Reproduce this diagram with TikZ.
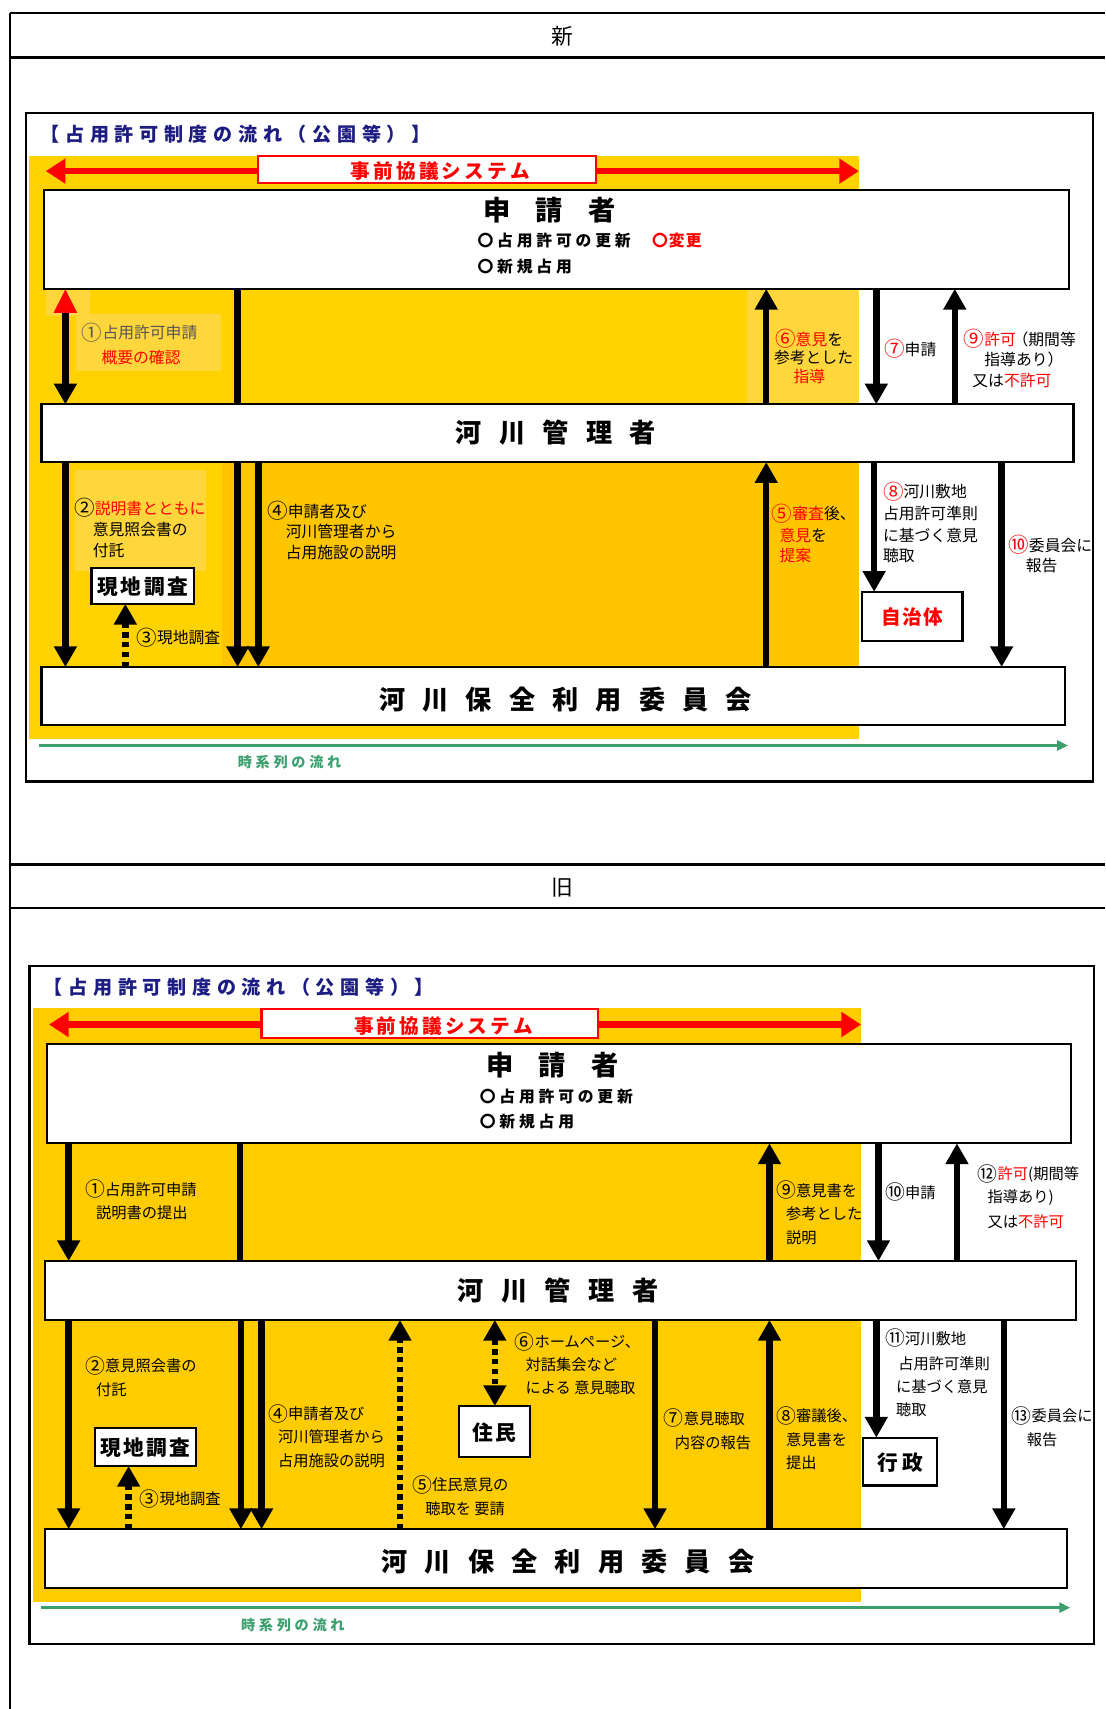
\documentclass[tikz,border=0pt]{standalone}
\usepackage{fontspec}
\setmainfont{Noto Sans CJK JP}
\newcommand{\cn}[1]{\raisebox{-1.4pt}{\scalebox{1.3}{#1}}}
\usetikzlibrary{arrows.meta}
\definecolor{navy}{RGB}{28,28,130}
\definecolor{gold}{RGB}{255,210,0}
\definecolor{goldd}{RGB}{255,198,0}
\definecolor{goldl}{RGB}{255,214,60}
\definecolor{goldb}{RGB}{255,204,0}
\definecolor{grn}{RGB}{60,160,110}
\definecolor{lblgray}{RGB}{85,85,85}
\makeatletter
\def\spc#1#2{\def\spc@gap{#1}\spc@loop#2\relax}
\def\spc@loop#1{\ifx#1\relax\unskip\else#1\hspace{\spc@gap}\expandafter\spc@loop\fi}
\makeatother
\begin{document}
\begin{tikzpicture}[x=1pt,y=-1pt,
  box/.style={draw=black,line width=2pt,fill=white,inner sep=0pt,outer sep=0pt},
  lbl/.style={font=\fontsize{14.5}{17}\selectfont,anchor=west,inner sep=0pt},
  lblb/.style={font=\fontsize{14}{17}\selectfont,anchor=west,inner sep=0pt},
  ttl/.style={font=\bfseries\fontsize{17.5}{20}\selectfont,text=navy,anchor=west,inner sep=0pt},
  big/.style={font=\bfseries\fontsize{25}{30}\selectfont,inner sep=0pt},
  sub/.style={font=\bfseries\fontsize{14.5}{17}\selectfont,anchor=west,inner sep=0pt},
  smallbox/.style={font=\bfseries\fontsize{19}{22}\selectfont,inner sep=0pt},
  arr/.style={line width=6pt,-{Triangle[width=20pt,length=19pt]}},
  darr/.style={line width=6pt,{Triangle[width=20pt,length=19pt]}-{Triangle[width=20pt,length=19pt]}},
  dotarr/.style={line width=6pt,dash pattern=on 5pt off 4pt,-{Triangle[width=20pt,length=19pt]}},
  dotdarr/.style={line width=6pt,dash pattern=on 5pt off 4pt,{Triangle[width=20pt,length=19pt]}-{Triangle[width=20pt,length=19pt]}},
  plainline/.style={line width=6pt},
  redarr/.style={red,line width=6pt,{Triangle[width=22pt,length=18pt]}-{Triangle[width=22pt,length=18pt]}},
  grnarr/.style={grn,line width=3pt,-{Triangle[width=9pt,length=10pt]}},
  sysbox/.style={draw=red,line width=2pt,fill=white,inner sep=0pt,outer sep=0pt},
  systxt/.style={font=\bfseries\fontsize{18}{21}\selectfont,text=red,inner sep=0pt},
  timetxt/.style={font=\bfseries\fontsize{13}{15}\selectfont,text=grn,anchor=west,inner sep=0pt}
]
\useasboundingbox (0,0) rectangle (1014,1568);
\fill[white] (0,0) rectangle (1014,1568);

% ===== table =====
\draw[line width=2.5pt] (9,12) -- (1014,12);
\draw[line width=2.5pt] (9,53) -- (1014,53);
\draw[line width=2.5pt] (9,793) -- (1014,793);
\draw[line width=2.5pt] (9,833) -- (1014,833);
\draw[line width=2pt] (9,12) -- (9,1568);
\node[font=\fontsize{20}{24}\selectfont] (hdr1) at (516,33) {新};
\node[font=\fontsize{20}{24}\selectfont] (hdr2) at (516,814) {旧};

% column coordinates
\foreach \xx in {60,63,115,118,218,220,221,237,240,367,454,601,703,706,802,804,806,876,878,919,921}
  \coordinate (c\xx) at (\xx,0);

% ================= SECTION 1 (新) =================
\draw[line width=2pt] (24,104) rectangle (1003,717);
\node[ttl] (title1) at (37,123) {\spc{5.2pt}{【占用許可制度の流れ（公園等）】}};
\fill[gold] (27,143) rectangle (788,678);
\fill[goldd] (204,424) rectangle (788,612);
\fill[goldl] (42,265) rectangle (83,290);
\fill[goldl] (70,288) rectangle (203,340);
\fill[goldl] (69,431) rectangle (189,524);
\fill[goldl] (685,266) rectangle (788,371);

\coordinate (r1s) at (42,157);
\coordinate (r1e) at (788,157);
\draw[redarr] (r1s) -- (r1e);
\node[sysbox,minimum width=310pt,minimum height=25pt] (sys1) at (392,155.5) {};
\node[systxt] (sys1t) at (404,157) {\spc{2.9pt}{事前協議システム}};

\node[box,minimum width=941pt,minimum height=91pt] (app1) at (510.5,219.5) {};
\node[box,minimum width=947pt,minimum height=53pt] (mgr1) at (511.5,397.5) {};
\node[box,minimum width=939pt,minimum height=53pt] (com1) at (507.5,638.5) {};
\node[box,minimum width=94pt,minimum height=33pt] (gen1) at (131,537.5) {};
\node[box,minimum width=92pt,minimum height=45pt] (jichi1) at (837,565.5) {};

\node[big] (app1t) at (504,193) {\spc{23pt}{申請者}};
\node[sub] (app1a) at (438,221) {\spc{3.5pt}{〇占用許可の更新}};
\node[sub,text=red] (app1c) at (598,221) {\spc{1pt}{〇変更}};
\node[sub] (app1b) at (438,245) {\spc{3.5pt}{〇新規占用}};
\node[big,font=\bfseries\fontsize{24}{28}\selectfont] (mgr1t) at (510,397) {\spc{16pt}{河川管理者}};
\node[big,font=\bfseries\fontsize{24}{28}\selectfont] (com1t) at (519,642) {\spc{15.75pt}{河川保全利用委員会}};
\node[smallbox] (gen1t) at (131,538) {\spc{2.3pt}{現地調査}};
\node[smallbox,text=red,font=\bfseries\fontsize{18}{22}\selectfont] (jichi1t) at (837,566) {\spc{1pt}{自治体}};

% arrows section 1
\draw[line width=6pt,{Triangle[width=20pt,length=22pt,red]}-{Triangle[width=20pt,length=19pt]}] (app1.south -| c60) -- (mgr1.north -| c60);
\draw[plainline] (app1.south -| c218) -- (mgr1.north -| c218);
\draw[arr] (mgr1.south -| c60) -- (com1.north -| c60);
\draw[arr] (mgr1.south -| c218) -- (com1.north -| c218);
\draw[arr] (mgr1.south -| c237) -- (com1.north -| c237);
\draw[dotarr] (com1.north -| c115) -- (gen1.south -| c115);
\draw[arr] (com1.north -| c703) -- (mgr1.south -| c703);
\draw[arr] (mgr1.north -| c703) -- (app1.south -| c703);
\draw[arr] (app1.south -| c804) -- (mgr1.north -| c804);
\draw[arr] (mgr1.north -| c876) -- (app1.south -| c876);
\draw[arr] (mgr1.south -| c802) -- (jichi1.north -| c802);
\draw[arr] (mgr1.south -| c919) -- (com1.north -| c919);

% labels section 1
\node[lbl,text=lblgray] (l1a) at (75,305) {\cn{①}占用許可申請};
\node[lbl,text=red] (l1b) at (93,328) {概要の確認};
\node[lbl] (l2a) at (68,466) {\cn{②}{\color{red}説明書とともに}};
\node[lbl] (l2b) at (85,486) {意見照会書の};
\node[lbl] (l2c) at (85,505) {付託};
\node[lbl] (l3) at (125,585) {\cn{③}現地調査};
\node[lbl] (l4a) at (245,469) {\cn{④}申請者及び};
\node[lbl] (l4b) at (262,488) {河川管理者から};
\node[lbl] (l4c) at (262,507) {占用施設の説明};
\node[lbl] (l5a) at (708,471) {{\color{red}\cn{⑤}審査}後、};
\node[lbl] (l5b) at (715,491) {{\color{red}意見}を};
\node[lbl,text=red] (l5c) at (715,510) {提案};
\node[lbl] (l6a) at (711,311) {{\color{red}\cn{⑥}意見}を};
\node[lbl] (l6b) at (710,328) {参考とした};
\node[lbl,text=red] (l6c) at (728,345) {指導};
\node[lbl] (l7) at (811,320) {{\color{red}\cn{⑦}}申請};
\node[lbl] (l8a) at (810,451) {{\color{red}\cn{⑧}}河川敷地};
\node[lbl] (l8b) at (810,471) {占用許可準則};
\node[lbl] (l8c) at (810,491) {に基づく意見};
\node[lbl] (l8d) at (810,510) {聴取};
\node[lbl] (l9a) at (884,311) {{\color{red}\cn{⑨}許可}\kern-3pt（期間等};
\node[lbl] (l9b) at (903,330) {指導あり）};
\node[lbl] (l9c) at (892,349) {又は{\color{red}不許可}};
\node[lbl] (l10a) at (925,500) {{\color{red}\cn{⑩}}委員会に};
\node[lbl] (l10b) at (941,519) {報告};

\coordinate (g1s) at (36,684);
\coordinate (g1e) at (980,684);
\draw[grnarr] (g1s) -- (g1e);
\node[timetxt] (time1) at (218,699) {\spc{3.4pt}{時系列の流れ}};

% ================= SECTION 2 (旧) =================
\draw[line width=2pt] (27,886) rectangle (1004,1508);
\node[ttl] (title2) at (40,906) {\spc{5.2pt}{【占用許可制度の流れ（公園等）】}};
\fill[goldb] (30,925) rectangle (790,1470);

\coordinate (r2s) at (45,940);
\coordinate (r2e) at (790,940);
\draw[redarr] (r2s) -- (r2e);
\node[sysbox,minimum width=309pt,minimum height=26pt] (sys2) at (394.5,939) {};
\node[systxt] (sys2t) at (407,941) {\spc{2.9pt}{事前協議システム}};

\node[box,minimum width=940pt,minimum height=91pt] (app2) at (513,1003.5) {};
\node[box,minimum width=946pt,minimum height=54pt] (mgr2) at (514,1184) {};
\node[box,minimum width=938pt,minimum height=54pt] (com2) at (510,1430) {};
\node[box,minimum width=93pt,minimum height=35pt] (gen2) at (133.5,1327.5) {};
\node[box,minimum width=65pt,minimum height=47pt] (jumin2) at (453.5,1313.5) {};
\node[box,minimum width=68pt,minimum height=44pt] (gyosei2) at (826,1341) {};

\node[big] (app2t) at (507,977) {\spc{23pt}{申請者}};
\node[sub] (app2a) at (440,1006) {\spc{3.5pt}{〇占用許可の更新}};
\node[sub] (app2b) at (440,1029) {\spc{3.5pt}{〇新規占用}};
\node[big,font=\bfseries\fontsize{24}{28}\selectfont] (mgr2t) at (512,1184) {\spc{16pt}{河川管理者}};
\node[big,font=\bfseries\fontsize{24}{28}\selectfont] (com2t) at (521,1433) {\spc{15.75pt}{河川保全利用委員会}};
\node[smallbox] (gen2t) at (133.5,1328) {\spc{2.3pt}{現地調査}};
\node[smallbox] (jumin2t) at (453.5,1314) {\spc{2pt}{住民}};
\node[smallbox] (gyosei2t) at (826,1342) {\spc{4pt}{行政}};

% arrows section 2
\draw[arr] (app2.south -| c63) -- (mgr2.north -| c63);
\draw[plainline] (app2.south -| c220) -- (mgr2.north -| c220);
\draw[arr] (mgr2.south -| c63) -- (com2.north -| c63);
\draw[arr] (mgr2.south -| c221) -- (com2.north -| c221);
\draw[arr] (mgr2.south -| c240) -- (com2.north -| c240);
\draw[dotarr] (com2.north -| c118) -- (gen2.south -| c118);
\draw[dotarr] (com2.north -| c367) -- (mgr2.south -| c367);
\draw[dotdarr] (mgr2.south -| c454) -- (jumin2.north -| c454);
\draw[arr] (mgr2.south -| c601) -- (com2.north -| c601);
\draw[arr] (com2.north -| c706) -- (mgr2.south -| c706);
\draw[arr] (mgr2.north -| c706) -- (app2.south -| c706);
\draw[arr] (app2.south -| c806) -- (mgr2.north -| c806);
\draw[arr] (mgr2.north -| c878) -- (app2.south -| c878);
\draw[arr] (mgr2.south -| c804) -- (gyosei2.north -| c804);
\draw[arr] (mgr2.south -| c921) -- (com2.north -| c921);

% labels section 2
\node[lblb] (m1a) at (78,1091) {\cn{①}占用許可申請};
\node[lblb] (m1b) at (88,1113) {説明書の提出};
\node[lblb] (m2a) at (78,1253) {\cn{②}意見照会書の};
\node[lblb] (m2b) at (88,1275) {付託};
\node[lblb] (m3) at (128,1375) {\cn{③}現地調査};
\node[lblb] (m4a) at (246,1297) {\cn{④}申請者及び};
\node[lblb] (m4b) at (255,1318) {河川管理者から};
\node[lblb] (m4c) at (255,1340) {占用施設の説明};
\node[lblb] (m5a) at (378,1362) {\cn{⑤}住民意見の};
\node[lblb] (m5b) at (390,1384) {聴取を 要請};
\node[lblb] (m6a) at (472,1231) {\cn{⑥}ホームページ、};
\node[lblb] (m6b) at (482,1252) {対話集会など};
\node[lblb] (m6c) at (482,1273) {による 意見聴取};
\node[lblb] (m7a) at (609,1301) {\cn{⑦}意見聴取};
\node[lblb] (m7b) at (619,1324) {内容の報告};
\node[lblb] (m8a) at (712,1299) {\cn{⑧}審議後、};
\node[lblb] (m8b) at (721,1321) {意見書を};
\node[lblb] (m8c) at (721,1342) {提出};
\node[lblb] (m9a) at (712,1092) {\cn{⑨}意見書を};
\node[lblb] (m9b) at (721,1114) {参考とした};
\node[lblb] (m9c) at (721,1136) {説明};
\node[lblb] (m10) at (812,1094) {\cn{⑩}申請};
\node[lblb] (m12a) at (897,1077) {\cn{⑫}{\color{red}許可}(期間等};
\node[lblb] (m12b) at (906,1099) {指導あり)};
\node[lblb] (m12c) at (906,1121) {又は{\color{red}不許可}};
\node[lblb] (m11a) at (812,1228) {\cn{⑪}河川敷地};
\node[lblb] (m11b) at (824,1251) {占用許可準則};
\node[lblb] (m11c) at (822,1272) {に基づく意見};
\node[lblb] (m11d) at (822,1293) {聴取};
\node[lblb] (m13a) at (928,1299) {\cn{⑬}委員会に};
\node[lblb] (m13b) at (942,1321) {報告};

\coordinate (g2s) at (38,1475);
\coordinate (g2e) at (982,1475);
\draw[grnarr] (g2s) -- (g2e);
\node[timetxt] (time2) at (221,1491) {\spc{3.4pt}{時系列の流れ}};
\end{tikzpicture}
\end{document}
